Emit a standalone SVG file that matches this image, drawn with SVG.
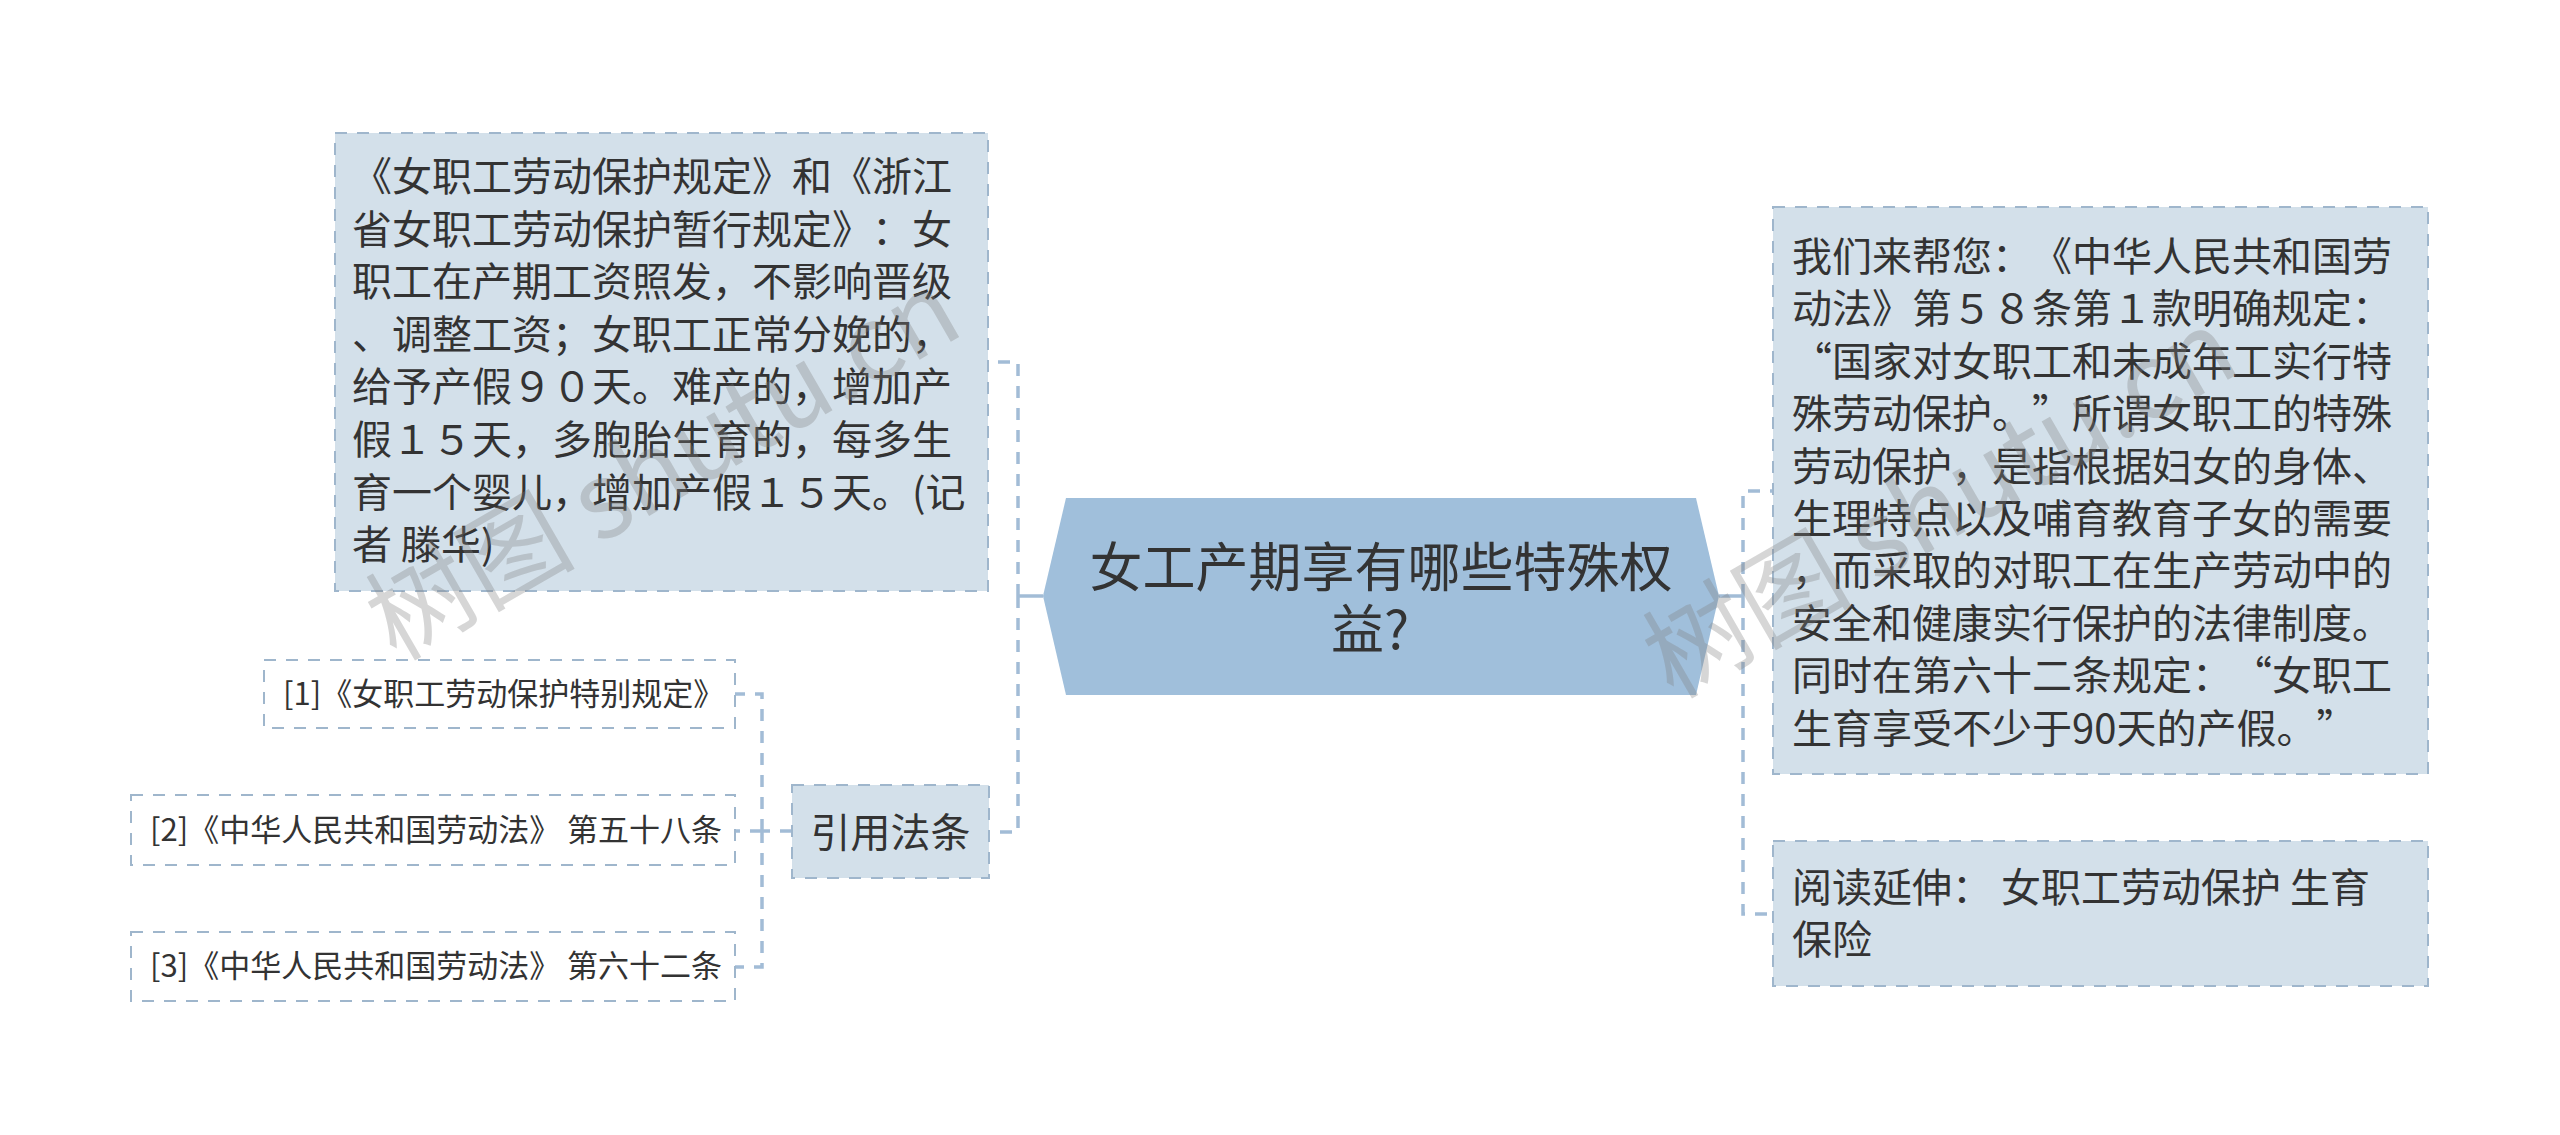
<svg xmlns="http://www.w3.org/2000/svg" width="2560" height="1135" viewBox="0 0 2560 1135">
<style>
.t{font-family:"Noto Sans CJK SC","Liberation Sans",sans-serif;fill:#333333;text-spacing-trim:space-all;}
.b{font-size:40px;}
.r{font-size:31px;}
.box{fill:#d3e0ea;stroke:#9fb6cc;stroke-width:2;stroke-dasharray:12 10;}
.ref{fill:#ffffff;stroke:#9fb6cc;stroke-width:2;stroke-dasharray:12 10;}
.c{fill:none;stroke:#a2bcd6;stroke-width:3.5;stroke-dasharray:12 10;}
.s{fill:none;stroke:#a2bcd6;stroke-width:3.5;}
.wm{font-family:"Noto Sans CJK SC","Liberation Sans",sans-serif;font-size:105px;fill:#808080;fill-opacity:0.32;}
</style>
<rect width="2560" height="1135" fill="#ffffff"/>
<g id="connectors">
<path class="s" d="M1043,596 H1018"/>
<path class="c" d="M1018,596 V362 H989"/>
<path class="c" d="M1018,596 V832 H989"/>
<path class="s" d="M1719,596 H1743"/>
<path class="c" d="M1743,596 V491 H1773"/>
<path class="c" d="M1743,596 V914 H1773"/>
<path class="c" d="M792,831 H762"/>
<path class="c" d="M762,831 V694 H735"/>
<path class="c" d="M762,831 H735"/>
<path class="c" d="M762,831 V967 H735"/>
</g>
<g id="root">
<polygon points="1066,498 1696,498 1719,596 1696,695 1066,695 1043,596" fill="#a0bfdb"/>
<text class="t" font-size="53" text-anchor="middle"><tspan x="1381" y="587">女工产期享有哪些特殊权</tspan><tspan x="1370" y="649">益?</tspan></text>
</g>
<g id="node-left-text">
<rect class="box" x="335" y="133" width="653" height="458"/>
<text class="t b">
<tspan x="352" y="191">《女职工劳动保护规定》和《浙江</tspan>
<tspan x="352" y="243.6">省女职工劳动保护暂行规定》：女</tspan>
<tspan x="352" y="296.2">职工在产期工资照发，不影响晋级</tspan>
<tspan x="352" y="348.8">、调整工资；女职工正常分娩的，</tspan>
<tspan x="352" y="401.4">给予产假９０天。难产的，增加产</tspan>
<tspan x="352" y="454">假１５天，多胞胎生育的，每多生</tspan>
<tspan x="352" y="506.6">育一个婴儿，增加产假１５天。(记</tspan>
<tspan x="352" y="559.2">者 滕华)</tspan>
</text>
</g>
<g id="node-cite">
<rect class="box" x="792" y="785" width="197" height="93"/>
<text class="t b" x="890.5" y="847" text-anchor="middle">引用法条</text>
</g>
<g id="ref-1">
<rect class="ref" x="264" y="660" width="471" height="68"/>
<text class="t r" x="283" y="705">[1]《女职工劳动保护特别规定》</text>
</g>
<g id="ref-2">
<rect class="ref" x="131" y="795" width="604" height="70"/>
<text class="t r" x="150" y="841" style="white-space:pre">[2]《中华人民共和国劳动法》 第五十八条</text>
</g>
<g id="ref-3">
<rect class="ref" x="131" y="932" width="604" height="69"/>
<text class="t r" x="150" y="977" style="white-space:pre">[3]《中华人民共和国劳动法》 第六十二条</text>
</g>
<g id="node-right-text">
<rect class="box" x="1773" y="207" width="655" height="567"/>
<text class="t b">
<tspan x="1792" y="271">我们来帮您：《中华人民共和国劳</tspan>
<tspan x="1792" y="323.4">动法》第５８条第１款明确规定：</tspan>
<tspan x="1792" y="375.8">“国家对女职工和未成年工实行特</tspan>
<tspan x="1792" y="428.2">殊劳动保护。”所谓女职工的特殊</tspan>
<tspan x="1792" y="480.6">劳动保护，是指根据妇女的身体、</tspan>
<tspan x="1792" y="533">生理特点以及哺育教育子女的需要</tspan>
<tspan x="1792" y="585.4">，而采取的对职工在生产劳动中的</tspan>
<tspan x="1792" y="637.8">安全和健康实行保护的法律制度。</tspan>
<tspan x="1792" y="690.2">同时在第六十二条规定：“女职工</tspan>
<tspan x="1792" y="742.6">生育享受不少于90天的产假。”</tspan>
</text>
</g>
<g id="node-right-read">
<rect class="box" x="1773" y="841" width="655" height="145"/>
<text class="t b" style="white-space:pre"><tspan x="1792" y="902">阅读延伸： 女职工劳动保护 生育</tspan><tspan x="1792" y="954">保险</tspan></text>
</g>
<g id="watermarks">
<text class="wm" x="396" y="662" transform="rotate(-30 396 662)">树图 shutu.cn</text>
<text class="wm" x="1673" y="700" transform="rotate(-30 1673 700)">树图 shutu.cn</text>
</g>
</svg>
